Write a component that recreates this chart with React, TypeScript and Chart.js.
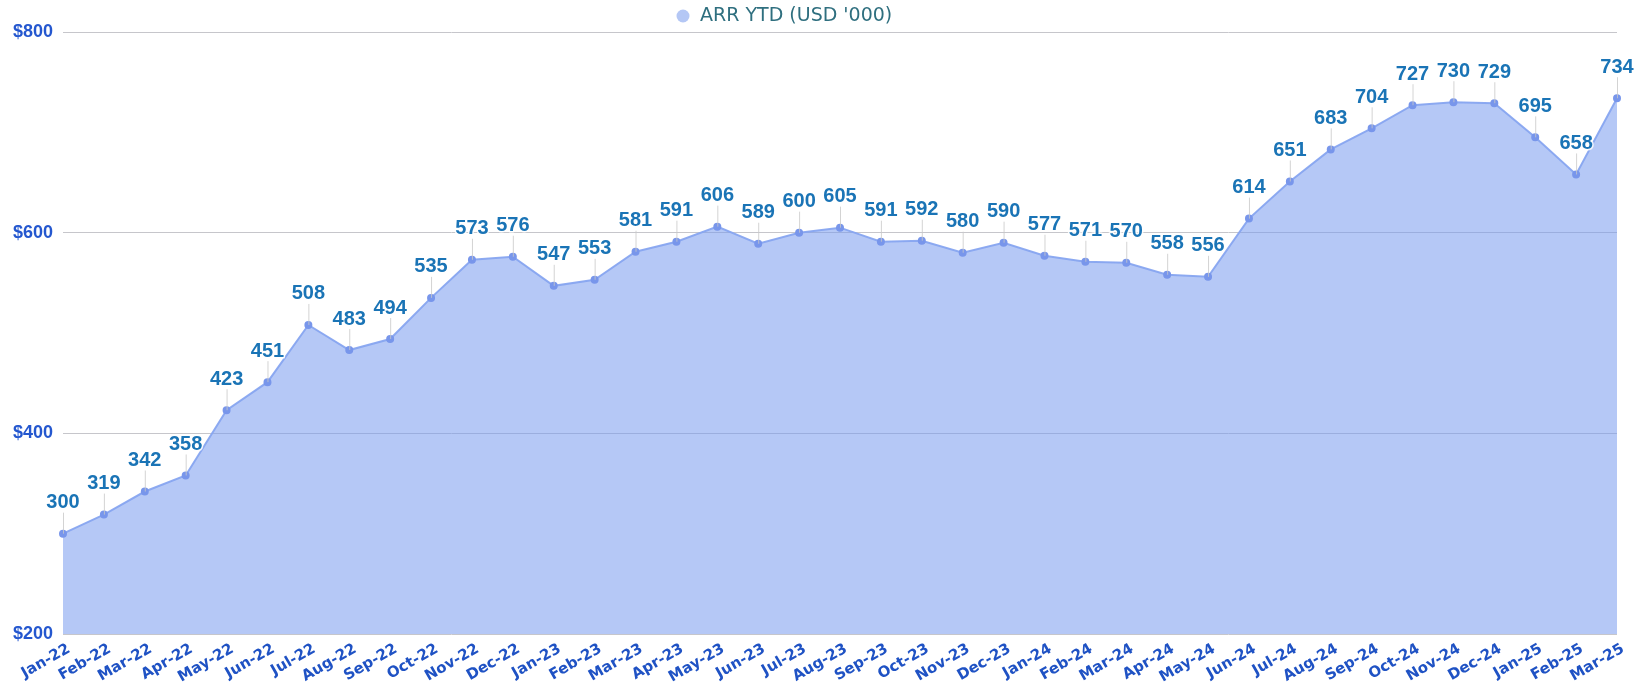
import React, { useEffect, useRef } from "react";
import { Chart, registerables } from "chart.js";

Chart.register(...registerables);

const categories = [
  "Jan-22", "Feb-22", "Mar-22", "Apr-22", "May-22", "Jun-22", "Jul-22", "Aug-22", "Sep-22", "Oct-22", "Nov-22", "Dec-22",
  "Jan-23", "Feb-23", "Mar-23", "Apr-23", "May-23", "Jun-23", "Jul-23", "Aug-23", "Sep-23", "Oct-23", "Nov-23", "Dec-23",
  "Jan-24", "Feb-24", "Mar-24", "Apr-24", "May-24", "Jun-24", "Jul-24", "Aug-24", "Sep-24", "Oct-24", "Nov-24", "Dec-24",
  "Jan-25", "Feb-25", "Mar-25",
];

const arrValues = [
  300, 319, 342, 358, 423, 451, 508, 483, 494, 535, 573, 576,
  547, 553, 581, 591, 606, 589, 600, 605, 591, 592, 580, 590,
  577, 571, 570, 558, 556, 614, 651, 683, 704, 727, 730, 729,
  695, 658, 734,
];

const seriesLabel = "ARR YTD (USD '000)";
const yTicks = [200, 400, 600, 800];

const dataLabelPlugin = {
  id: "dataLabelPlugin",
  afterDatasetsDraw(chart: any) {
    const ctx = chart.ctx;
    const meta = chart.getDatasetMeta(0);
    const data = chart.data.datasets[0].data as number[];
    ctx.save();
    ctx.font = "bold 20px 'Liberation Sans', Arial, sans-serif";
    ctx.textAlign = "center";
    ctx.textBaseline = "middle";
    meta.data.forEach((pt: any, i: number) => {
      const x = pt.x;
      const y = pt.y;
      const ly = y - 31;
      ctx.strokeStyle = "rgba(200,200,200,0.8)";
      ctx.lineWidth = 1;
      ctx.beginPath();
      ctx.moveTo(x + 0.5, y);
      ctx.lineTo(x + 0.5, ly + 10);
      ctx.stroke();
      const txt = String(data[i]);
      ctx.lineWidth = 3;
      ctx.strokeStyle = "rgba(255,255,255,0.85)";
      ctx.lineJoin = "round";
      ctx.strokeText(txt, x, ly);
      ctx.fillStyle = "#1a74b6";
      ctx.fillText(txt, x, ly);
    });
    ctx.restore();
  },
};

const legendPlugin = {
  id: "customLegend",
  afterDraw(chart: any) {
    const ctx = chart.ctx;
    ctx.save();
    ctx.fillStyle = "#b4c7f5";
    ctx.beginPath();
    ctx.arc(683, 16, 6.5, 0, Math.PI * 2);
    ctx.fill();
    ctx.font = "19px 'DejaVu Sans', sans-serif";
    ctx.fillStyle = "#2f6f7f";
    ctx.textAlign = "left";
    ctx.textBaseline = "middle";
    ctx.fillText(seriesLabel, 700, 16);
    ctx.restore();
  },
};

export default function App() {
  const canvasRef = useRef<HTMLCanvasElement | null>(null);

  useEffect(() => {
    if (!canvasRef.current) return;
    const chart = new Chart(canvasRef.current, {
      type: "line",
      data: {
        labels: categories,
        datasets: [
          {
            label: seriesLabel,
            data: arrValues,
            fill: "start",
            backgroundColor: "rgba(120,155,238,0.55)",
            borderColor: "rgba(135,165,240,0.95)",
            borderWidth: 2,
            pointRadius: 3,
            pointBackgroundColor: "rgb(120,150,235)",
            pointBorderColor: "rgb(120,150,235)",
            tension: 0,
          },
        ],
      },
      options: {
        responsive: true,
        maintainAspectRatio: false,
        animation: false,
        layout: { padding: { left: 0, right: 31, top: 32, bottom: 0 } },
        plugins: {
          tooltip: { enabled: false },
          legend: { display: false },
        },
        scales: {
          x: {
            type: "category",
            offset: false,
            grid: { display: false, drawTicks: false },
            border: { display: false },
            ticks: {
              autoSkip: false,
              minRotation: 30,
              maxRotation: 30,
              padding: 6,
              labelOffset: 6,
              color: "#1f52c4",
              font: { family: "'DejaVu Sans', sans-serif", size: 15, weight: "bold" },
            },
            afterFit: (scale: any) => {
              scale.height = 57;
            },
          },
          y: {
            min: 200,
            max: 800,
            grid: { color: "#c6c6cb", drawTicks: false, lineWidth: 1 },
            border: { display: false },
            afterBuildTicks: (scale: any) => {
              scale.ticks = yTicks.map((v) => ({ value: v }));
            },
            ticks: {
              padding: 10,
              color: "#2457cf",
              font: { family: "'Liberation Sans', Arial, sans-serif", size: 18, weight: "bold" },
              callback: (v: any) => "$" + v,
            },
            afterFit: (scale: any) => {
              scale.width = 63;
            },
          },
        },
      } as any,
      plugins: [dataLabelPlugin, legendPlugin],
    });
    return () => chart.destroy();
  }, []);

  return (
    <div style={{ position: "fixed", left: 0, top: 0, width: 1648, height: 691, background: "#fff" }}>
      <canvas ref={canvasRef} />
    </div>
  );
}
